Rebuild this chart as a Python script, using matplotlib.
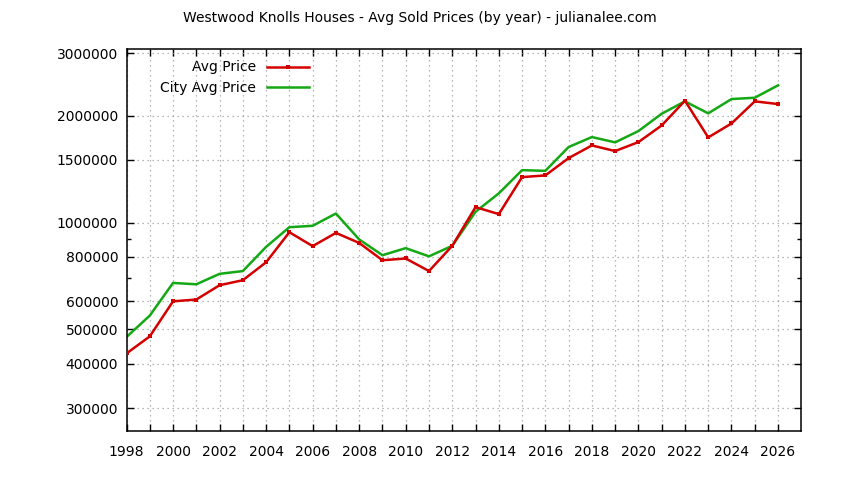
import matplotlib
matplotlib.use("Agg")
import matplotlib.pyplot as plt
from matplotlib.ticker import FixedLocator, NullFormatter

years = list(range(1998, 2027))
avg_price = [428000, 478000, 600000, 607000, 666000, 688000, 773000, 939000, 858000, 935000,
             876000, 783000, 792000, 730000, 860000, 1105000, 1056000, 1342000, 1357000, 1518000,
             1648000, 1589000, 1684000, 1876000, 2202000, 1736000, 1900000, 2193000, 2155000]
city_avg_price = [476000, 547000, 676000, 670000, 717000, 730000, 854000, 970000, 979000, 1060000,
                  896000, 809000, 847000, 803000, 860000, 1072000, 1208000, 1404000, 1398000, 1631000,
                  1740000, 1681000, 1809000, 2024000, 2193000, 2029000, 2226000, 2245000, 2433000]
y_ticks = [300000, 400000, 500000, 600000, 800000, 1000000, 1500000, 2000000, 3000000]
y_minor = [700000, 900000]
x_labels = list(range(1998, 2027, 2))

title = "Westwood Knolls Houses - Avg Sold Prices (by year) - julianalee.com"

plt.rcParams['font.family'] = ['DejaVu Sans']
fig = plt.figure(figsize=(8.44, 4.80), dpi=100)
ax = fig.add_axes([126.5/844, 1-431.3/480, (801.3-126.5)/844, (431.3-48.5)/480])

red = '#d40000'
green = '#14a814'
ax.plot(years, avg_price, color=red, lw=1.8, marker='s', ms=3.2, mew=0, label='Avg Price', zorder=3)
ax.plot(years, city_avg_price, color=green, lw=1.8, label='City Avg Price', zorder=2)

ax.set_yscale('log')
ax.set_ylim(258400, 3089000)
ax.set_xlim(1998, 2027)

ax.yaxis.set_major_locator(FixedLocator(y_ticks))
ax.yaxis.set_major_formatter(matplotlib.ticker.FixedFormatter([str(v) for v in y_ticks]))
ax.yaxis.set_minor_locator(FixedLocator(y_minor))
ax.yaxis.set_minor_formatter(NullFormatter())
ax.xaxis.set_major_locator(FixedLocator(x_labels))
ax.set_xticklabels([str(v) for v in x_labels])
ax.xaxis.set_minor_locator(FixedLocator(years))

ax.tick_params(axis='both', which='both', direction='in', top=True, right=True,
               length=5, width=1, labelsize=10, color='black')
ax.tick_params(axis='y', which='minor', length=3)
ax.tick_params(axis='x', which='minor', length=5)
ax.tick_params(axis='x', pad=10)
ax.tick_params(axis='y', pad=6)

ax.grid(True, which='major', axis='y', linestyle=(0, (1, 3)), color='#a0a0a0', lw=0.9)
ax.grid(True, which='both', axis='x', linestyle=(0, (1, 3)), color='#a0a0a0', lw=0.9)

for s in ax.spines.values():
    s.set_linewidth(1.1)

leg = ax.legend(loc='upper right', bbox_to_anchor=(0.270, 0.969), frameon=False,
                markerfirst=False, fontsize=10, handlelength=3.0, handletextpad=0.8,
                labelspacing=0.45, borderaxespad=0, borderpad=0)

fig.text(0.497, 0.962, title, ha='center', va='center', fontsize=10)

fig.savefig('out.png', dpi=100)
